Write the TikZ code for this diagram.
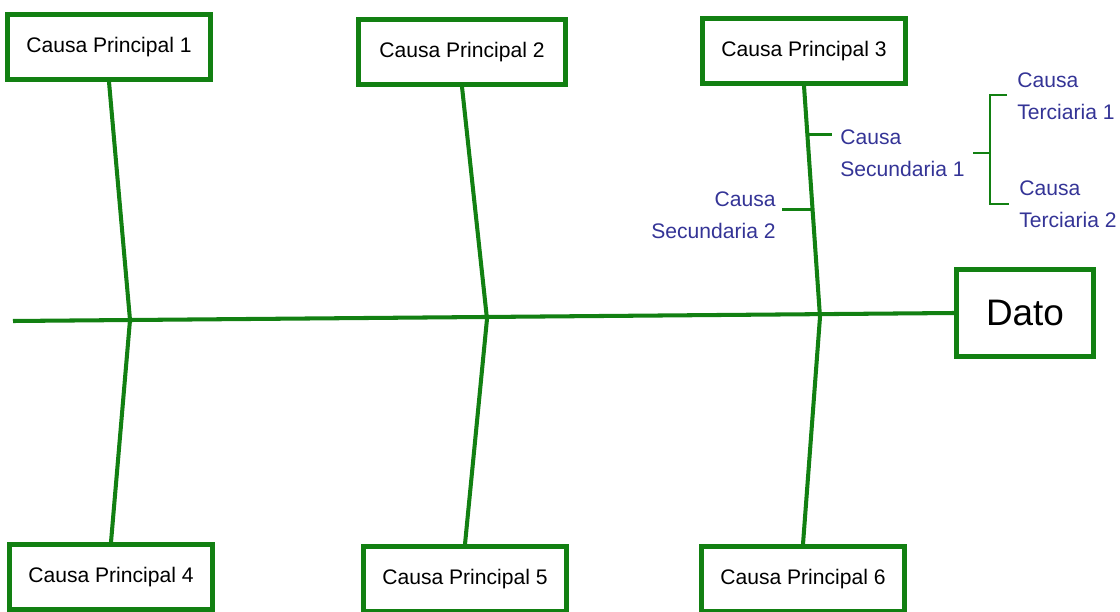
\documentclass[tikz,border=0pt]{standalone}
\usepackage{fontspec}
\setmainfont{Liberation Sans}
\definecolor{fishgreen}{RGB}{18,128,18}
\definecolor{causeblue}{RGB}{52,52,150}

\tikzset{
  causebox/.style={draw=fishgreen, line width=2.6pt, fill=white,
    minimum width=4.05cm, minimum height=1.3cm, inner sep=0pt,
    font=\fontsize{12}{14}\selectfont},
  bone/.style={fishgreen, line width=2.3pt},
  twig/.style={fishgreen, line width=1.5pt},
  subcause/.style={causeblue, inner sep=0pt,
    font=\fontsize{12}{18}\selectfont}
}

\begin{document}
\begin{tikzpicture}[x=0.02cm, y=-0.02cm]
    \useasboundingbox (0,0) rectangle (1120,612);
    % head and main causes
    \node[causebox, minimum width=2.75cm, minimum height=1.75cm,
          font=\fontsize{21}{24}\selectfont] (dato) at (1025,313) {Dato};
    \node[causebox] (cp1) at (109,47) {Causa Principal 1};
    \node[causebox, minimum width=4.15cm] (cp2) at (462,52) {Causa Principal 2};
    \node[causebox] (cp3) at (804,51) {Causa Principal 3};
    \node[causebox] (cp4) at (111,577) {Causa Principal 4};
    \node[causebox] (cp5) at (465,579) {Causa Principal 5};
    \node[causebox] (cp6) at (803,579) {Causa Principal 6};
    % spine
    \coordinate (tail) at (13,321);
    \coordinate (j1) at (130,320);
    \coordinate (j2) at (487,319);
    \coordinate (j3) at (820,317);
    \draw[bone] (tail) -- (dato.west);
    % bones
    \draw[bone] (cp1.south) -- (j1) -- (cp4.north);
    \draw[bone] (cp2.south) -- (j2) -- (cp5.north);
    \draw[bone] (cp3.south) -- coordinate[pos=0.21] (s1)
        coordinate[pos=0.535] (s2) (j3) -- (cp6.north);
    % secondary causes
    \draw[twig] (s1) -- ++(25,0) coordinate (s1e);
    \draw[twig] (s2) -- ++(-31,0) coordinate (s2e);
    \node[subcause, anchor=west, align=left] (sec1) at (840,153)
        {Causa\\Secundaria 1};
    \node[subcause, anchor=east, align=right] (sec2) at (776,215)
        {Causa\\Secundaria 2};
    % tertiary causes
    \coordinate (br) at (990,153);
    \draw[twig] (br) -- ++(-17,0);
    \draw[twig] (1007,95) -- (990,95) -- (990,204) -- (1009,204);
    \node[subcause, anchor=west, align=left] (ter1) at (1017,96)
        {Causa\\Terciaria 1};
    \node[subcause, anchor=west, align=left] (ter2) at (1019,204)
        {Causa\\Terciaria 2};
\end{tikzpicture}
\end{document}
